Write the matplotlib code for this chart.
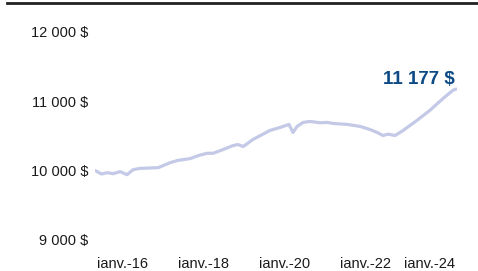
import numpy as np
import matplotlib.pyplot as plt
from matplotlib.lines import Line2D

# --- data (decimal year, portfolio value in $) ---
years = [2015.34, 2015.49, 2015.63, 2015.78, 2015.95, 2016.12, 2016.27, 2016.44,
         2016.89, 2017.19, 2017.38, 2017.68, 2017.88, 2018.10, 2018.25, 2018.49,
         2018.74, 2018.86, 2018.99, 2019.23, 2019.65, 2019.90, 2020.12, 2020.22,
         2020.32, 2020.47, 2020.64, 2020.89, 2021.06, 2021.21, 2021.56, 2021.88,
         2022.12, 2022.30, 2022.44, 2022.57, 2022.74, 2022.94, 2023.28, 2023.60,
         2023.93, 2024.17, 2024.25]
values = [10000, 9952, 9971, 9957, 9986, 9942, 10014, 10033,
          10043, 10116, 10149, 10174, 10217, 10251, 10251, 10304,
          10362, 10377, 10348, 10449, 10580, 10623, 10667, 10551,
          10638, 10696, 10710, 10691, 10696, 10681, 10667, 10638,
          10594, 10551, 10507, 10526, 10507, 10580, 10725, 10870,
          11043, 11160, 11177]

ytick_vals = [9000, 10000, 11000, 12000]
ytick_labels = ["9 000 $", "10 000 $", "11 000 $", "12 000 $"]
xtick_vals = [2016, 2018, 2020, 2022, 2023.6]
xtick_labels = ["ianv.-16", "ianv.-18", "ianv.-20", "ianv.-22", "ianv.-24"]
final_label = "11 177 $"

line_color = "#c3c9e6"
label_color = "#0d4a86"
font = ["Liberation Sans", "DejaVu Sans"]

fig = plt.figure(figsize=(4.78, 2.71), dpi=100)
ax = fig.add_axes([95 / 478, 31 / 271, 362 / 478, 208 / 271])

ax.plot(years, values, color=line_color, lw=2.3, solid_capstyle="round",
        solid_joinstyle="round")

ax.set_xlim(2015.33, 2024.27)
ax.set_ylim(9000, 12000)
ax.set_yticks(ytick_vals)
ax.set_yticklabels(ytick_labels, family=font, fontsize=10.5, color="#1a1a1a")
ax.set_xticks(xtick_vals)
ax.set_xticklabels(xtick_labels, family=font, fontsize=10.5, color="#1a1a1a")
ax.tick_params(axis="y", length=0, pad=5)
ax.tick_params(axis="x", length=0, pad=12.5)
for s in ax.spines.values():
    s.set_visible(False)
ax.patch.set_alpha(0)

# last value callout
ax.annotate(final_label, xy=(years[-1], values[-1]), xytext=(-1, 1),
            textcoords="offset points", ha="right", va="bottom",
            family=font, fontsize=13.5, fontweight="bold", color=label_color)

# black rule at the top
fig.add_artist(Line2D([7 / 478, 1], [1 - 3 / 271, 1 - 3 / 271],
                      color="#222222", lw=2))

fig.savefig("out.png", dpi=100)
